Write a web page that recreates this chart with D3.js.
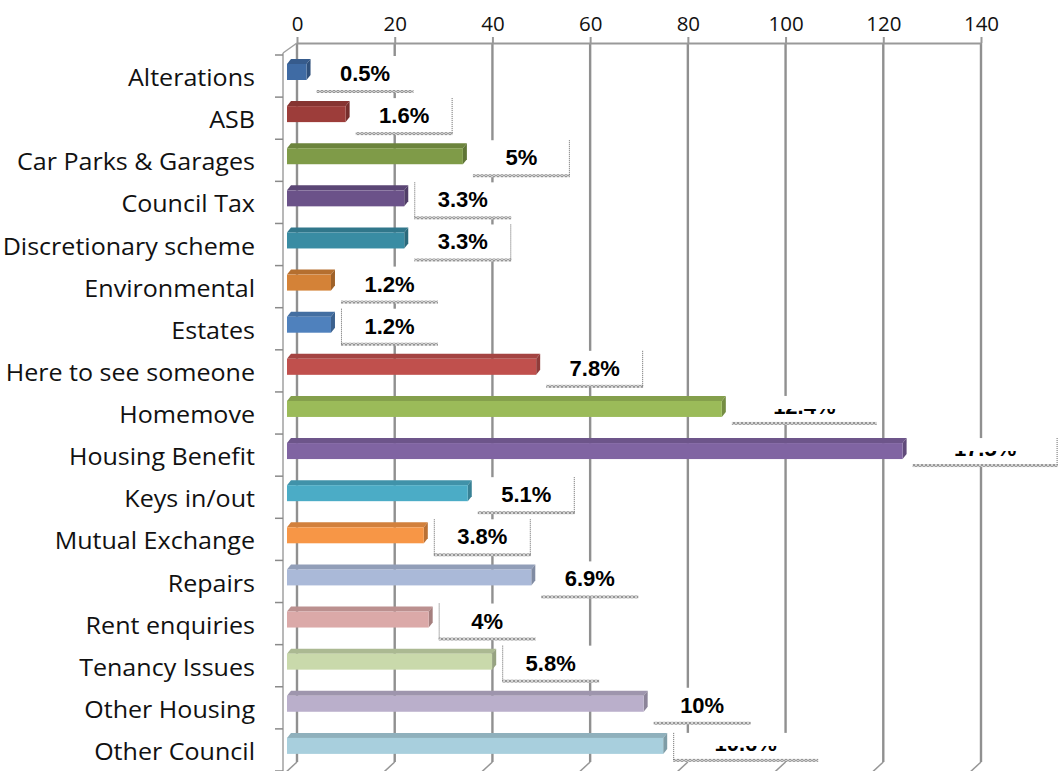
<!DOCTYPE html>
<html>
<head>
<meta charset="utf-8">
<script src="https://cdn.jsdelivr.net/npm/d3@7"></script>
<style>
  html, body { margin: 0; padding: 0; background: #fff; }
  svg { display: block; }
</style>
</head>
<body>
<svg id="chart" width="1060" height="771"></svg>
<script>
// ---------- data ----------
const categories = [
  "Alterations", "ASB", "Car Parks & Garages", "Council Tax", "Discretionary scheme",
  "Environmental", "Estates", "Here to see someone", "Homemove", "Housing Benefit",
  "Keys in/out", "Mutual Exchange", "Repairs", "Rent enquiries", "Tenancy Issues",
  "Other Housing", "Other Council"
];
const counts = [4, 12, 36, 24, 24, 9, 9, 51, 89, 126, 37, 28, 50, 29, 42, 73, 77];
const pctLabels = [
  "0.5%", "1.6%", "5%", "3.3%", "3.3%", "1.2%", "1.2%", "7.8%", "12.4%", "17.5%",
  "5.1%", "3.8%", "6.9%", "4%", "5.8%", "10%", "10.6%"
];
const xTicks = [0, 20, 40, 60, 80, 100, 120, 140];
const barColors = [
  "#3F6BA4", "#9D3D3A", "#7F9B48", "#6B5289", "#398CA3", "#D48237",
  "#4F81BD", "#C0504D", "#9BBB59", "#8064A2", "#4BACC6", "#F79646",
  "#AAB9D8", "#DBA9A8", "#C9D9AB", "#BAAFCB", "#A8CFDD"
];

// ---------- rendering ----------
const svg = d3.select("#chart");
const defs = svg.append("defs");
const pat = defs.append("pattern").attr("id", "hatch")
  .attr("width", 4).attr("height", 3).attr("patternUnits", "userSpaceOnUse");
pat.append("rect").attr("width", 4).attr("height", 3).attr("fill", "#e4e4e4");
pat.append("ellipse").attr("cx", 2).attr("cy", 1.5).attr("rx", 1.5).attr("ry", 1)
  .attr("fill", "none").attr("stroke", "#7a7a7a").attr("stroke-width", 0.8);

const x = d3.scaleLinear().domain([0, 140]).range([297, 981]);
const y = d3.scaleBand().domain(categories).range([55, 771]);
const bw = y.bandwidth();
const frontShift = 10;   // bars are in front of the back wall
const gridTop = 43, gridBottom = 762;

const catFont = "'Open Sans', 'DejaVu Sans', sans-serif";

// gridlines + floor diagonals
const grid = svg.append("g");
xTicks.forEach(t => {
  grid.append("line")
    .attr("x1", x(t)).attr("x2", x(t)).attr("y1", gridTop).attr("y2", gridBottom)
    .attr("stroke", "#909090").attr("stroke-width", 2.4);
  grid.append("line")
    .attr("x1", x(t)).attr("y1", gridBottom).attr("x2", x(t) - 13).attr("y2", gridBottom + 12)
    .attr("stroke", "#969696").attr("stroke-width", 1.5);
});

// left side wall
grid.append("line").attr("x1", 283).attr("x2", 283).attr("y1", 53).attr("y2", 771)
  .attr("stroke", "#a0a0a0").attr("stroke-width", 1.5);
grid.append("line").attr("x1", 283).attr("y1", 53).attr("x2", x(0)).attr("y2", gridTop)
  .attr("stroke", "#a0a0a0").attr("stroke-width", 1.5);
const sep = categories.map(c => y(c)).concat([y.range()[1]]);
grid.selectAll("line.sep").data(sep).enter().append("line").attr("class", "sep")
  .attr("x1", 275).attr("x2", 283).attr("y1", d => d).attr("y2", d => d)
  .attr("stroke", "#8a8a8a").attr("stroke-width", 1.5);

// top axis
const axis = svg.append("g").attr("transform", `translate(0,${gridTop})`)
  .call(d3.axisTop(x).tickValues(xTicks).tickSize(6).tickSizeOuter(0).tickPadding(6));
axis.select(".domain").attr("stroke", "#999").attr("stroke-width", 2.2);
axis.selectAll(".tick line").attr("stroke", "#999").attr("stroke-width", 2);
axis.selectAll(".tick text").attr("font-family", catFont).attr("font-size", 20.5)
  .attr("fill", "#111");

// category labels (horizontally stretched like the source raster)
const sx = 1.09;
svg.append("g").selectAll("text").data(categories).enter().append("text")
  .attr("transform", d => `translate(255,${y(d) + bw / 2 + 1}) scale(${sx},1)`)
  .attr("text-anchor", "end").attr("dominant-baseline", "central")
  .attr("font-family", catFont).attr("font-size", 23).attr("fill", "#111")
  .text(d => d);

// bars (3D)
const dxD = 4, dyD = 5, faceH = 16;
const bars = svg.append("g");
categories.forEach((c, i) => {
  const x0 = x(0) - frontShift, x1 = x(counts[i]) - frontShift;
  const top = y(c) + 9;
  const col = d3.color(barColors[i]);
  bars.append("polygon")
    .attr("points", [[x0, top], [x0 + dxD, top - dyD], [x1 + dxD, top - dyD], [x1, top]].join(" "))
    .attr("fill", col.darker(0.45));
  bars.append("polygon")
    .attr("points", [[x1, top], [x1 + dxD, top - dyD], [x1 + dxD, top - dyD + faceH], [x1, top + faceH]].join(" "))
    .attr("fill", col.darker(0.8));
  bars.append("rect").attr("x", x0).attr("y", top).attr("width", x1 - x0).attr("height", faceH)
    .attr("fill", col);
});

// data labels
const wideLabels = new Set([8, 9, 16]);          // boxes whose text is mostly hidden
const sides = ["", "r", "r", "l", "r", "", "l", "r", "", "r", "r", "lr", "", "l", "l", "", "l"];
const lab = svg.append("g");
categories.forEach((c, i) => {
  const wide = wideLabels.has(i);
  const bx = x(counts[i]) - frontShift + 10;
  const w = wide ? 145 : 97;
  const top = y(c) + (wide ? 4 : 1);
  const bottom = y(c) + (wide ? 32 : 37);
  lab.append("rect").attr("x", bx).attr("y", top).attr("width", w).attr("height", bottom - top)
    .attr("fill", "#fff");
  lab.append("rect").attr("x", bx).attr("y", bottom - 2).attr("width", w).attr("height", 3)
    .attr("fill", "url(#hatch)");
  if (sides[i].includes("l")) {
    lab.append("line").attr("x1", bx + 0.5).attr("x2", bx + 0.5).attr("y1", top).attr("y2", bottom)
      .attr("stroke", "#666").attr("stroke-width", 1).attr("stroke-dasharray", "1 1");
  }
  if (sides[i].includes("r")) {
    lab.append("line").attr("x1", bx + w - 0.5).attr("x2", bx + w - 0.5).attr("y1", top).attr("y2", bottom)
      .attr("stroke", "#666").attr("stroke-width", 1).attr("stroke-dasharray", "1 1");
  }
  const baseline = wide ? bottom - 10 : y(c) + 26;
  const t = lab.append("text").attr("x", bx + w / 2).attr("y", baseline)
    .attr("text-anchor", "middle")
    .attr("font-family", "'Liberation Sans', Arial, sans-serif")
    .attr("font-weight", "bold").attr("font-size", 22).attr("fill", "#000")
    .text(pctLabels[i]);
  if (wide) {
    const id = "clip" + i;
    defs.append("clipPath").attr("id", id).append("rect")
      .attr("x", bx).attr("y", baseline - 5).attr("width", w).attr("height", 6);
    t.attr("clip-path", `url(#${id})`);
  }
});
</script>
</body>
</html>
